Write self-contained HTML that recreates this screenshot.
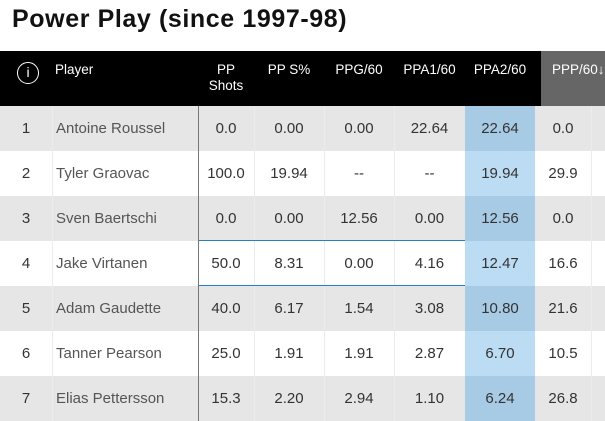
<!DOCTYPE html>
<html><head><meta charset="utf-8"><style>
*{margin:0;padding:0;box-sizing:border-box}
body{width:605px;height:421px;background:#fff;font-family:"Liberation Sans",sans-serif;position:relative;overflow:hidden}
.t{position:absolute;left:12px;top:5px;font-size:25px;font-weight:bold;color:#111;letter-spacing:0.6px}
.hd{position:absolute;left:0;top:51px;width:605px;height:55px;background:#000}
.hg{position:absolute;left:541px;top:51px;width:64px;height:55px;background:#666}
.h{position:absolute;color:#fff;font-size:13.5px;text-align:center;line-height:16px}
.row{position:absolute;left:0;width:605px;height:45px}
.c{position:absolute;font-size:15px;color:#333;text-align:center;line-height:45px}
.v{position:absolute;width:1px;top:106px;height:315px;background:#ececec}
.blue{position:absolute;left:465px;width:70px;height:45px}
</style></head><body>
<div class="t">Power Play (since 1997-98)</div>
<div class="hd"></div><div class="hg"></div>
<div style="position:absolute;left:17px;top:62px;width:22px;height:22px;border:1.5px solid #fff;border-radius:50%;color:#fff;font-size:14px;text-align:center;line-height:19px">i</div>
<div class="h" style="left:55px;top:62px;text-align:left">Player</div>
<div class="h" style="left:198px;width:56px;top:62px">PP<br>Shots</div>
<div class="h" style="left:254px;width:70px;top:62px">PP S%</div>
<div class="h" style="left:324px;width:70px;top:62px">PPG/60</div>
<div class="h" style="left:394px;width:71px;top:62px">PPA1/60</div>
<div class="h" style="left:465px;width:70px;top:62px">PPA2/60</div>
<div class="h" style="left:541px;width:64px;top:62px;text-align:left;padding-left:11px">PPP/60↓</div>
<div id="rows"></div>
<script>
var d=[["1","Antoine Roussel","0.0","0.00","0.00","22.64","22.64","0.0"],
["2","Tyler Graovac","100.0","19.94","--","--","19.94","29.9"],
["3","Sven Baertschi","0.0","0.00","12.56","0.00","12.56","0.0"],
["4","Jake Virtanen","50.0","8.31","0.00","4.16","12.47","16.6"],
["5","Adam Gaudette","40.0","6.17","1.54","3.08","10.80","21.6"],
["6","Tanner Pearson","25.0","1.91","1.91","2.87","6.70","10.5"],
["7","Elias Pettersson","15.3","2.20","2.94","1.10","6.24","26.8"]];
var cols=[[0,52],[198,56],[254,70],[324,70],[394,71],[465,70],[535,56]];
var h="";
d.forEach(function(r,i){var y=106+45*i;var g=i%2==0;
h+='<div class="row" style="top:'+y+'px;background:'+(g?'#e6e6e6':'#fff')+'"></div>';
h+='<div class="blue" style="top:'+y+'px;background:'+(g?'#a8cbe5':'#bcdcf4')+'"></div>';
h+='<div class="c" style="left:0;width:52px;top:'+y+'px">'+r[0]+'</div>';
h+='<div class="c" style="left:56px;top:'+y+'px;text-align:left;color:#555">'+r[1]+'</div>';
for(var k=1;k<7;k++){h+='<div class="c" style="left:'+cols[k][0]+'px;width:'+cols[k][1]+'px;top:'+y+'px">'+r[k+1]+'</div>';}
});
[52,254,324,394,591].forEach(function(x){h+='<div class="v" style="left:'+x+'px"></div>';});
h+='<div style="position:absolute;left:198px;top:106px;width:1px;height:315px;background:#777"></div>';
h+='<div style="position:absolute;left:199px;top:240px;width:266px;height:1px;background:#2a7fc4"></div>';
h+='<div style="position:absolute;left:199px;top:285px;width:266px;height:1px;background:#2a7fc4"></div>';
document.getElementById("rows").innerHTML=h;
</script>
</body></html>
